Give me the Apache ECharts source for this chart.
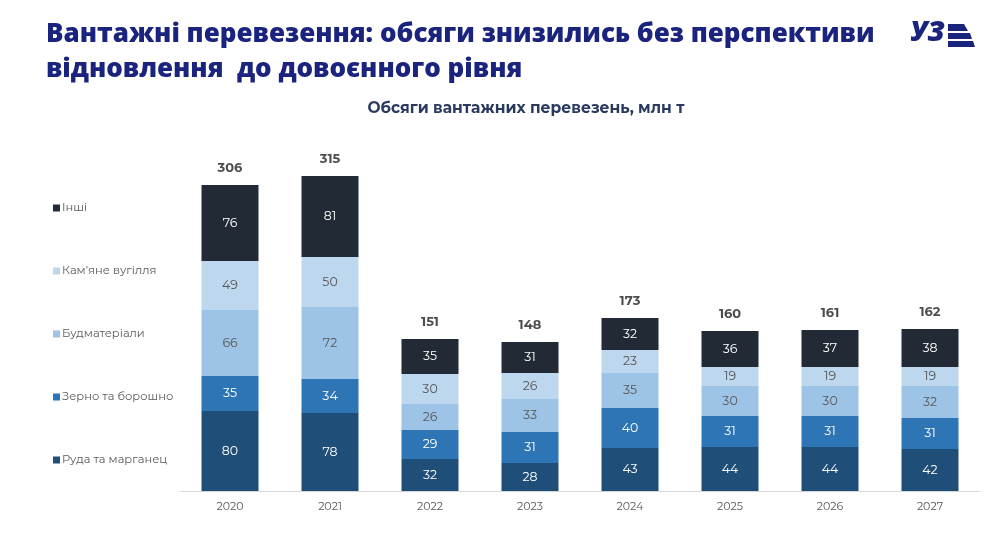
<!DOCTYPE html>
<html>
<head>
<meta charset="utf-8">
<script src="https://cdn.jsdelivr.net/npm/echarts@6/dist/echarts.min.js"></script>
<style>
html,body{margin:0;padding:0;background:#fff;}
#c{width:1000px;height:539px;}
</style>
</head>
<body>
<div id="c"></div>
<script>
const years = ['2020','2021','2022','2023','2024','2025','2026','2027'];
const ore = [80,78,32,28,43,44,44,42];
const grain = [35,34,29,31,40,31,31,31];
const building = [66,72,26,33,35,30,30,32];
const coal = [49,50,30,26,23,19,19,19];
const other = [76,81,35,31,32,36,37,38];
const totals = [306,315,151,148,173,160,161,162];

const names = ['Руда та марганец','Зерно та борошно','Будматеріали','Кам\u2019яне вугілля','Інші'];
const colors = ['#1f4e79','#2e75b6','#9dc3e6','#bdd7ee','#222a35'];
const labelColors = ['#ffffff','#ffffff','#595959','#595959','#ffffff'];
const values = [ore, grain, building, coal, other];

const font = 'Montserrat, "Open Sans", Inter, sans-serif';

const series = values.map((v,i)=>({
  name: names[i],
  type: 'bar',
  stack: 'total',
  barWidth: 57,
  data: v,
  itemStyle: {color: colors[i]},
  label: {show: true, position: 'inside', color: labelColors[i], fontSize: 12.5, fontFamily: font},
  emphasis: {disabled: true}
}));

const stackTop = years.map((_,k)=>values.reduce((s,arr)=>s+arr[k],0));
series.push({
  name: 'total',
  type: 'scatter',
  symbolSize: 0,
  data: stackTop.map((s,k)=>({value: s, label: {formatter: String(totals[k])}})),
  label: {show: true, position: 'top', distance: 10, color: '#1f1f1f', fontSize: 13, fontWeight: 'bold', fontFamily: font},
  silent: true,
  z: 5
});

const chart = echarts.init(document.getElementById('c'));
chart.setOption({
  animation: false,
  title: [{
    text: 'Вантажні перевезення: обсяги знизились без перспективи\nвідновлення  до довоєнного рівня',
    left: 41, top: 12,
    textStyle: {color: '#1a237e', fontSize: 26, fontWeight: 800, fontFamily: '"Open Sans", sans-serif', lineHeight: 35}
  },{
    text: 'Обсяги вантажних перевезень, млн т',
    left: 521, top: 95, textAlign: 'center',
    textStyle: {color: '#2a3a5e', fontSize: 15.5, fontWeight: 'bold', fontFamily: font}
  }],
  legend: {
    orient: 'vertical', left: 48, top: 197,
    data: ['Інші','Кам\u2019яне вугілля','Будматеріали','Зерно та борошно','Руда та марганец'],
    itemWidth: 7, itemHeight: 7, itemGap: 51,
    icon: 'rect',
    selectedMode: false,
    textStyle: {color: '#595959', fontSize: 11.5, fontFamily: font, padding: [0,0,0,-3]}
  },
  grid: {left: 180, right: 20, top: 141, bottom: 48},
  xAxis: {
    type: 'category', data: years,
    axisLine: {lineStyle: {color: '#d9d9d9'}},
    axisTick: {show: false},
    axisLabel: {color: '#595959', fontSize: 11, fontFamily: font, margin: 10}
  },
  yAxis: {type: 'value', min: 0, max: 350, show: false, splitLine: {show: false}},
  series: series,
  graphic: [{
    type: 'group', left: 910, top: 19,
    children: [
      {type: 'text', style: {text: 'УЗ', x: 0, y: 0, font: 'italic 900 28px "Open Sans", sans-serif', fill: '#1a237e'}},
      {type: 'polygon', shape: {points: [[38,5],[54,5],[58,12],[38,12]]}, style: {fill: '#1a237e'}},
      {type: 'polygon', shape: {points: [[38,14],[60,14],[62,20],[38,20]]}, style: {fill: '#1a237e'}},
      {type: 'polygon', shape: {points: [[38,22],[63,22],[65,28],[38,28]]}, style: {fill: '#1a237e'}}
    ]
  }]
});
</script>
</body>
</html>
